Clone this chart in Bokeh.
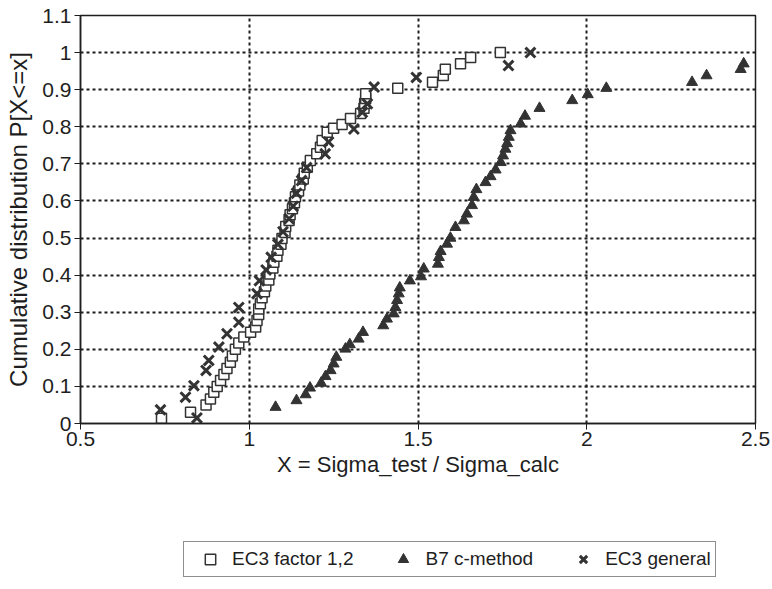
from bokeh.plotting import figure
from bokeh.layouts import column
from bokeh.models import Legend, LegendItem, FixedTicker, CustomJSTickFormatter, Range1d
from bokeh.embed import file_html
from bokeh.resources import INLINE

# EC3 factor 1,2 (open squares)
ec3f_x = [0.740, 0.826, 0.872, 0.885, 0.895, 0.905, 0.915, 0.925, 0.934, 0.944,
          0.950, 0.959, 0.969, 0.984, 1.004, 1.019, 1.023, 1.028, 1.028, 1.033,
          1.038, 1.045, 1.049, 1.058, 1.061, 1.070, 1.073, 1.082, 1.085, 1.094,
          1.097, 1.106, 1.108, 1.118, 1.121, 1.128, 1.134, 1.137, 1.146, 1.150,
          1.160, 1.163, 1.172, 1.181, 1.200, 1.211, 1.216, 1.231, 1.250, 1.275,
          1.300, 1.330, 1.340, 1.342, 1.345, 1.345, 1.440, 1.543, 1.575, 1.581,
          1.626, 1.656, 1.744]
ec3f_y = [0.014, 0.030, 0.050, 0.066, 0.084, 0.100, 0.116, 0.132, 0.148, 0.165,
          0.182, 0.200, 0.217, 0.233, 0.246, 0.260, 0.278, 0.294, 0.309, 0.323,
          0.339, 0.355, 0.371, 0.387, 0.403, 0.419, 0.435, 0.451, 0.467, 0.483,
          0.499, 0.515, 0.531, 0.547, 0.563, 0.579, 0.595, 0.611, 0.627, 0.643,
          0.659, 0.675, 0.691, 0.709, 0.727, 0.745, 0.763, 0.785, 0.796, 0.806,
          0.822, 0.836, 0.850, 0.863, 0.876, 0.889, 0.904, 0.920, 0.938, 0.955,
          0.970, 0.987, 1.000]

# B7 c-method (filled triangles)
b7_x = [1.078, 1.140, 1.167, 1.180, 1.213, 1.226, 1.241, 1.250, 1.258, 1.285,
        1.298, 1.324, 1.337, 1.397, 1.408, 1.428, 1.433, 1.438, 1.443, 1.446,
        1.476, 1.509, 1.517, 1.559, 1.562, 1.567, 1.586, 1.596, 1.611, 1.636,
        1.645, 1.660, 1.665, 1.673, 1.700, 1.715, 1.730, 1.745, 1.752, 1.759,
        1.764, 1.769, 1.774, 1.804, 1.817, 1.860, 1.957, 2.003, 2.058, 2.312,
        2.355, 2.456, 2.465]
b7_y = [0.044, 0.062, 0.078, 0.096, 0.109, 0.127, 0.143, 0.161, 0.179, 0.201,
        0.213, 0.228, 0.246, 0.264, 0.282, 0.296, 0.313, 0.332, 0.350, 0.366,
        0.385, 0.396, 0.417, 0.430, 0.448, 0.464, 0.484, 0.500, 0.529, 0.547,
        0.565, 0.588, 0.610, 0.631, 0.650, 0.666, 0.684, 0.704, 0.722, 0.740,
        0.755, 0.772, 0.790, 0.808, 0.829, 0.850, 0.871, 0.887, 0.904, 0.920,
        0.938, 0.955, 0.970]

# EC3 general (crosses)
ec3g_x = [0.737, 0.845, 0.811, 0.836, 0.872, 0.880, 0.910, 0.934, 0.969, 0.969,
          1.023, 1.030, 1.050, 1.065, 1.085, 1.100, 1.118, 1.130, 1.140, 1.155,
          1.170, 1.225, 1.235, 1.310, 1.335, 1.350, 1.370, 1.495, 1.768, 1.833]
ec3g_y = [0.037, 0.015, 0.071, 0.102, 0.143, 0.170, 0.206, 0.242, 0.273, 0.313,
          0.350, 0.385, 0.414, 0.448, 0.483, 0.517, 0.552, 0.586, 0.621, 0.655,
          0.690, 0.727, 0.759, 0.794, 0.839, 0.862, 0.907, 0.933, 0.965, 1.000]

series_labels = ["EC3 factor 1,2", "B7 c-method", "EC3 general"]
x_ticks = [0.5, 1.0, 1.5, 2.0, 2.5]
y_ticks = [0, 0.1, 0.2, 0.3, 0.4, 0.5, 0.6, 0.7, 0.8, 0.9, 1.0, 1.1]

FONT = "Liberation Sans"
INK = "#1e1e1e"
MARK = "#333333"

p = figure(width=772, height=520, x_range=Range1d(0.5, 2.5), y_range=Range1d(0, 1.1),
           output_backend="svg", toolbar_location=None,
           min_border_left=80, min_border_right=17, min_border_top=15, min_border_bottom=97,
           background_fill_color="white", border_fill_color="white")

p.outline_line_color = INK
p.outline_line_width = 1.5

fmt = CustomJSTickFormatter(code="return String(Math.round(tick*10)/10);")
for ax, ticks in ((p.xaxis, x_ticks), (p.yaxis, y_ticks)):
    ax.ticker = FixedTicker(ticks=ticks)
    ax.formatter = fmt
    ax.axis_line_color = INK
    ax.axis_line_width = 1.5
    ax.major_tick_line_color = INK
    ax.major_tick_out = 6
    ax.major_tick_in = 0
    ax.minor_tick_line_color = None
    ax.major_label_text_font = FONT
    ax.major_label_text_font_size = "21px"
    ax.major_label_text_color = INK
    ax.axis_label_text_font = FONT
    ax.axis_label_text_font_style = "normal"
    ax.axis_label_text_color = INK

p.xaxis.axis_label = "X = Sigma_test / Sigma_calc"
p.yaxis.axis_label = "Cumulative distribution P[X<=x]"
p.xaxis.axis_label_text_font_size = "22px"
p.yaxis.axis_label_text_font_size = "24px"
p.xaxis.major_label_standoff = 2
p.xaxis.axis_label_standoff = 3
p.yaxis.major_label_standoff = 3
p.yaxis.axis_label_standoff = 7

for g in (p.xgrid, p.ygrid):
    g.grid_line_color = INK
    g.grid_line_width = 2
    g.grid_line_dash = "3 3"
p.xgrid.ticker = FixedTicker(ticks=x_ticks)
p.ygrid.ticker = FixedTicker(ticks=y_ticks)

sq = dict(marker="square", size=10, fill_color="white", line_color=MARK, line_width=1.5)
tr = dict(marker="triangle", size=11, fill_color=MARK, line_color=MARK, line_width=1)
cr = dict(marker="x", size=14, line_color=MARK, line_width=3)

p.scatter(ec3f_x, ec3f_y, **sq)
p.scatter(b7_x, b7_y, **tr)
p.scatter(ec3g_x, ec3g_y, **cr)

# legend strip below the chart (its ranges keep the sample marks out of view;
# they only supply the legend swatches)
lg = figure(width=772, height=69, x_range=Range1d(0.5, 2.5), y_range=Range1d(5, 6),
            output_backend="svg", toolbar_location=None,
            x_axis_location=None, y_axis_location=None,
            min_border=0, min_border_left=80, min_border_right=17,
            min_border_top=0, min_border_bottom=0,
            background_fill_color="white", border_fill_color="white")
lg.outline_line_color = None
lg.xgrid.visible = False
lg.ygrid.visible = False

l1 = lg.scatter(ec3f_x[-1:], ec3f_y[-1:], **sq)
l2 = lg.scatter(b7_x[-1:], b7_y[-1:], **tr)
l3 = lg.scatter(ec3g_x[-1:], ec3g_y[-1:], **cr)

legend = Legend(items=[LegendItem(label=series_labels[0], renderers=[l1]),
                       LegendItem(label=series_labels[1], renderers=[l2]),
                       LegendItem(label=series_labels[2], renderers=[l3])],
                orientation="horizontal", location=(103, 12))
legend.border_line_color = INK
legend.border_line_width = 1.5
legend.label_text_font = FONT
legend.label_text_font_size = "19px"
legend.label_text_color = INK
legend.glyph_width = 44
legend.glyph_height = 26
legend.label_standoff = 0
legend.spacing = 28
legend.padding = 4
legend.margin = 0
lg.add_layout(legend, "center")

layout = column(p, lg, spacing=0)
open("out.html", "w").write(file_html(layout, INLINE))
